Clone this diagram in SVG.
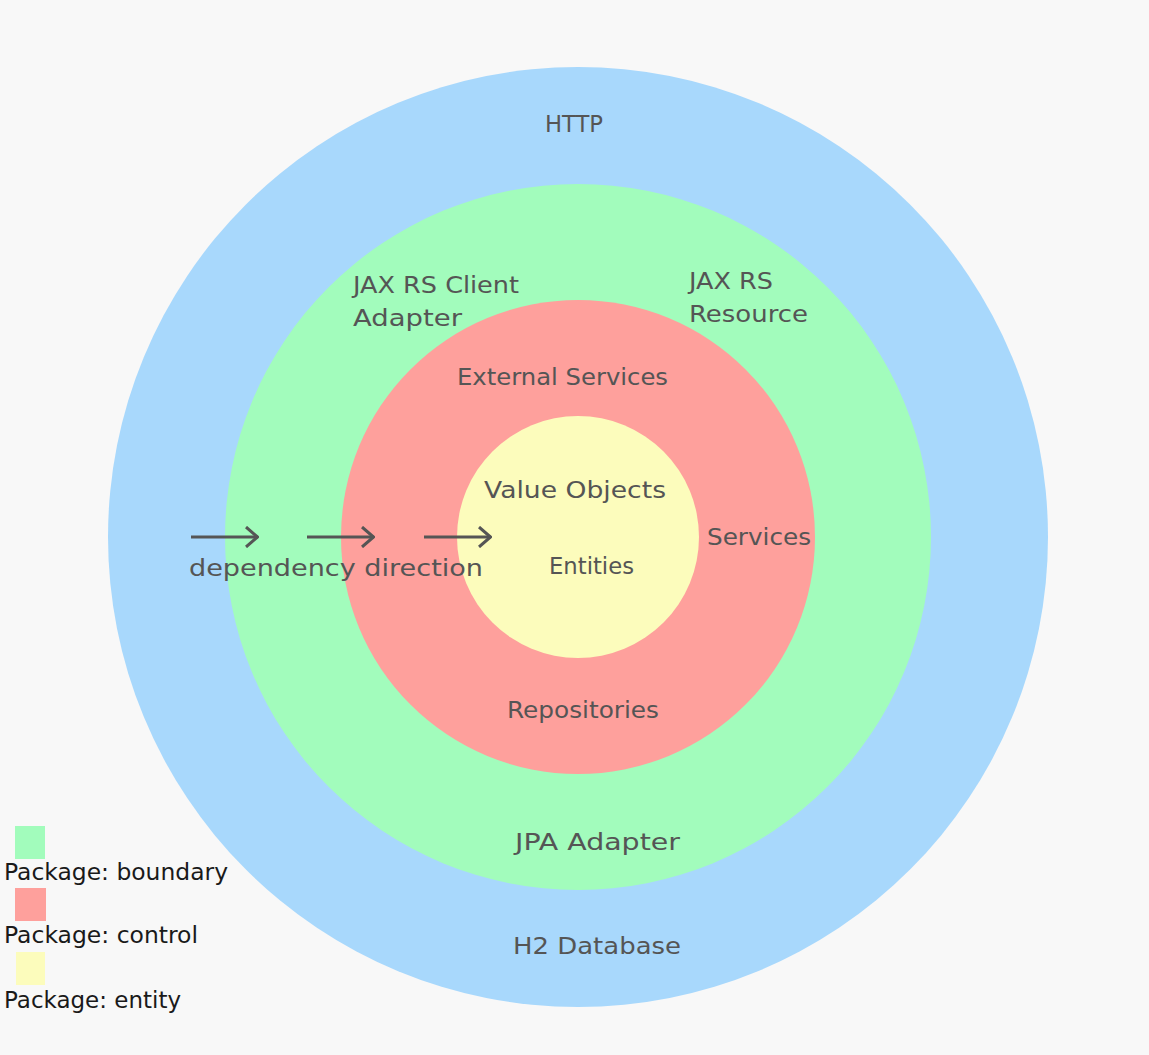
<svg xmlns="http://www.w3.org/2000/svg" width="1149" height="1055" viewBox="0 0 1149 1055">
<style>
.t{font-family:"DejaVu Sans","Liberation Sans",sans-serif;font-size:23.5px;fill:#555555}
.l{font-family:"DejaVu Sans","Liberation Sans",sans-serif;font-size:23.5px;fill:#1a1a1a}
.arr{stroke:#555555;stroke-width:3;fill:none}
</style>
<defs>
<marker id="ah" viewBox="0 0 14 22" refX="13" refY="11" markerWidth="14" markerHeight="22" markerUnits="userSpaceOnUse" orient="auto">
<path d="M1,1 L12.5,11 L1,21" fill="none" stroke="#555555" stroke-width="3"/>
</marker>
</defs>
<rect width="1149" height="1055" fill="#f8f8f8"/>
<g id="http">
<circle cx="578" cy="537" r="470" fill="#a8d8fc"/>
<text class="t" x="545" y="132" textLength="58" lengthAdjust="spacingAndGlyphs">HTTP</text>
<text class="t" x="513" y="954" textLength="168" lengthAdjust="spacingAndGlyphs">H2 Database</text>
</g>
<g id="boundary">
<circle cx="578" cy="537" r="353" fill="#a2fcbc"/>
<text class="t" x="353" y="293" textLength="166" lengthAdjust="spacingAndGlyphs">JAX RS Client</text>
<text class="t" x="353" y="326" textLength="109" lengthAdjust="spacingAndGlyphs">Adapter</text>
<text class="t" x="689" y="289" textLength="84" lengthAdjust="spacingAndGlyphs">JAX RS</text>
<text class="t" x="689" y="322" textLength="119" lengthAdjust="spacingAndGlyphs">Resource</text>
<text class="t" x="515" y="850" textLength="165" lengthAdjust="spacingAndGlyphs">JPA Adapter</text>
</g>
<g id="control">
<circle cx="578" cy="537" r="237" fill="#fea09c"/>
<text class="t" x="457" y="385" textLength="211" lengthAdjust="spacingAndGlyphs">External Services</text>
<text class="t" x="707" y="545" textLength="104" lengthAdjust="spacingAndGlyphs">Services</text>
<text class="t" x="507" y="718" textLength="152" lengthAdjust="spacingAndGlyphs">Repositories</text>
</g>
<g id="entity">
<circle cx="578" cy="537" r="121" fill="#fcfcbc"/>
<text class="t" x="484" y="498" textLength="182" lengthAdjust="spacingAndGlyphs">Value Objects</text>
<text class="t" x="549" y="574" textLength="85" lengthAdjust="spacingAndGlyphs">Entities</text>
</g>
<g id="connectors">
<line class="arr" x1="191" y1="537" x2="258" y2="537" marker-end="url(#ah)"/>
<line class="arr" x1="307" y1="537" x2="374" y2="537" marker-end="url(#ah)"/>
<line class="arr" x1="424" y1="537" x2="491" y2="537" marker-end="url(#ah)"/>
</g>
<g id="dependency-label">
<text class="t" x="189" y="576" textLength="294" lengthAdjust="spacingAndGlyphs">dependency direction</text>
</g>
<g id="legend">
<rect x="15" y="826" width="30" height="33" fill="#a2fcbc"/>
<text class="l" x="4" y="880" textLength="224" lengthAdjust="spacingAndGlyphs">Package: boundary</text>
<rect x="15" y="888" width="31" height="33" fill="#fea09c"/>
<text class="l" x="4" y="943" textLength="194" lengthAdjust="spacingAndGlyphs">Package: control</text>
<rect x="16" y="952" width="29" height="33" fill="#fcfcbc"/>
<text class="l" x="4" y="1008" textLength="177" lengthAdjust="spacingAndGlyphs">Package: entity</text>
</g>
</svg>
